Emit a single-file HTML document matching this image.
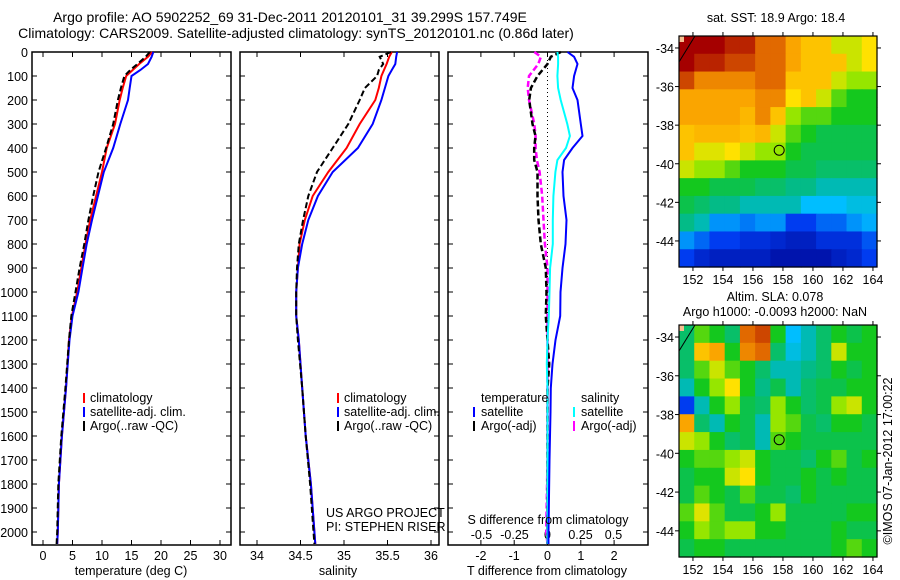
<!DOCTYPE html>
<html><head><meta charset="utf-8"><style>
body{margin:0;background:#fff;}
svg{display:block;font-family:"Liberation Sans",sans-serif;font-size:12.5px;}
</style></head><body>
<svg id="fig" width="900" height="580" viewBox="0 0 900 580"></svg>
<script>
const depths = [0,20,50,75,100,150,200,300,400,500,600,700,800,900,1000,1100,1200,1400,1600,1800,2000,2050];
const tempClim = [18.5,17.8,16.3,15.2,14.1,13.5,13.0,12.2,10.8,10.0,9.0,8.0,7.2,6.5,5.8,4.9,4.4,3.9,3.2,2.7,2.5,2.4];
const tempSat  = [18.7,18.4,17.8,16.5,15.0,14.7,14.4,13.1,11.9,10.3,9.3,8.3,7.4,6.7,6.0,5.0,4.5,3.9,3.2,2.7,2.5,2.4];
const tempArgo = [18.1,17.4,16.0,14.8,13.8,13.2,12.7,11.9,10.7,9.4,8.5,7.7,7.0,6.2,5.5,4.8,4.4,3.8,3.1,2.6,2.4,2.3];
const salClim = [35.55,35.52,35.49,35.46,35.43,35.40,35.36,35.18,35.03,34.82,34.64,34.55,34.49,34.47,34.45,34.45,34.48,34.52,34.56,34.62,34.66,34.67];
const salSat  = [35.61,35.60,35.59,35.55,35.51,35.47,35.43,35.33,35.16,34.87,34.70,34.59,34.52,34.47,34.45,34.45,34.48,34.52,34.56,34.62,34.66,34.67];
const salArgo = [35.54,35.41,35.45,35.40,35.38,35.24,35.18,35.05,34.87,34.69,34.59,34.53,34.48,34.46,34.45,34.45,34.47,34.52,34.56,34.61,34.65,34.66];
const diffDepths = [0,20,50,100,150,200,300,350,400,450,500,600,700,800,900,1000,1100,1200,1300,1400,1500,1700,2000,2050];
const dTsat  = [0.6,0.8,0.9,0.8,0.75,0.9,1.0,1.05,0.75,0.5,0.45,0.48,0.57,0.54,0.45,0.39,0.38,0.24,0.15,0.1,0.09,0.06,0.03,0.03];
const dSsat  = [0.075,0.08,0.08,0.075,0.08,0.1,0.15,0.17,0.14,0.075,0.06,0.045,0.04,0.04,0.02,0.015,0.01,0.0,-0.005,0.0,0.0,0.0,0.0,0.0];
const dTargo = [0.4,0.1,0.0,-0.3,-0.5,-0.55,-0.45,-0.36,-0.4,-0.4,-0.3,-0.3,-0.27,-0.2,-0.05,-0.03,-0.05,0.0,0.05,0.0,0.0,0.0,0.0,0.0];
const dSargo = [-0.1,-0.05,-0.07,-0.14,-0.15,-0.14,-0.1,-0.09,-0.09,-0.08,-0.06,-0.04,-0.03,-0.02,0.0,0.0,0.0,0.0,0.0,0.0,0.0,0.0,-0.01,0.0];
const depthTicks = [0,100,200,300,400,500,600,700,800,900,1000,1100,1200,1300,1400,1500,1600,1700,1800,1900,2000];
const tempTicks = [0,5,10,15,20,25,30];
const salTicks = [34,34.5,35,35.5,36];
const tdTicks = [-2,-1,0,1,2];
const sdTicks = [-0.5,-0.25,0,0.25,0.5];
const lonTicks = [152,154,156,158,160,162,164];
const latTicks = [-34,-36,-38,-40,-42,-44];
const sstGrid = [
[1,1,1,0.95,0.95,0.85,0.85,0.75,0.7,0.7,0.6,0.6,0.65],
[1,0.95,0.95,0.9,0.9,0.85,0.85,0.75,0.7,0.7,0.7,0.6,0.65],
[0.9,0.8,0.8,0.8,0.8,0.85,0.85,0.7,0.7,0.7,0.6,0.55,0.55],
[0.75,0.75,0.75,0.75,0.75,0.8,0.8,0.65,0.7,0.6,0.5,0.45,0.45],
[0.75,0.75,0.75,0.75,0.72,0.8,0.7,0.55,0.5,0.5,0.45,0.45,0.45],
[0.7,0.72,0.72,0.72,0.7,0.72,0.6,0.5,0.45,0.42,0.42,0.42,0.42],
[0.7,0.62,0.62,0.65,0.6,0.55,0.55,0.45,0.42,0.42,0.42,0.42,0.42],
[0.6,0.55,0.55,0.5,0.45,0.45,0.45,0.42,0.42,0.4,0.4,0.4,0.4],
[0.45,0.45,0.42,0.42,0.42,0.4,0.4,0.38,0.38,0.35,0.35,0.35,0.35],
[0.42,0.4,0.38,0.38,0.35,0.35,0.35,0.35,0.3,0.3,0.3,0.32,0.32],
[0.38,0.35,0.25,0.25,0.22,0.25,0.25,0.15,0.15,0.2,0.2,0.25,0.28],
[0.25,0.2,0.15,0.15,0.12,0.12,0.1,0.08,0.08,0.12,0.12,0.12,0.18],
[0.15,0.1,0.08,0.08,0.08,0.08,0.05,0.05,0.05,0.05,0.08,0.1,0.15]];
const slaGrid = [
[0.4,0.5,0.45,0.4,0.85,0.9,0.45,0.3,0.35,0.4,0.45,0.42,0.45],
[0.4,0.7,0.75,0.45,0.8,0.85,0.4,0.32,0.35,0.4,0.6,0.45,0.45],
[0.4,0.5,0.6,0.5,0.45,0.4,0.35,0.35,0.38,0.4,0.45,0.42,0.45],
[0.35,0.45,0.55,0.65,0.45,0.38,0.42,0.35,0.4,0.42,0.42,0.45,0.45],
[0.15,0.35,0.45,0.55,0.42,0.4,0.55,0.45,0.4,0.42,0.55,0.6,0.45],
[0.75,0.4,0.35,0.45,0.42,0.35,0.55,0.5,0.42,0.4,0.45,0.45,0.42],
[0.6,0.55,0.45,0.4,0.42,0.35,0.5,0.45,0.42,0.42,0.42,0.42,0.42],
[0.45,0.5,0.5,0.55,0.6,0.45,0.42,0.42,0.4,0.45,0.5,0.42,0.45],
[0.42,0.45,0.45,0.6,0.65,0.45,0.42,0.42,0.45,0.42,0.45,0.42,0.42],
[0.42,0.5,0.45,0.42,0.5,0.42,0.42,0.4,0.45,0.42,0.42,0.42,0.42],
[0.5,0.62,0.5,0.42,0.42,0.45,0.55,0.42,0.42,0.42,0.42,0.45,0.45],
[0.45,0.55,0.5,0.55,0.55,0.45,0.45,0.42,0.42,0.42,0.45,0.42,0.42],
[0.42,0.45,0.45,0.42,0.42,0.42,0.42,0.42,0.42,0.42,0.45,0.5,0.45]];
const argoLon = 157.749, argoLat = -39.299;

const NS="http://www.w3.org/2000/svg", svg=document.getElementById('fig');
function mk(tag,attrs,parent,text){const e=document.createElementNS(NS,tag);for(const k in attrs)e.setAttribute(k,attrs[k]);if(text!==undefined)e.textContent=text;(parent||svg).appendChild(e);return e;}
function txt(x,y,s,anchor,name,extra){const e=mk('text',Object.assign({x:x,y:y,'text-anchor':anchor||'start'},extra||{}),svg,s);

return e;}
const yD=d=>52+d*0.24;
const xT=t=>43+t*5.9, xS=s=>257+(s-34)*87, xdT=v=>547.5+v*33.3, xdS=v=>547.5+v*132;

function frame(x0,x1,name){const r=mk('rect',{x:x0,y:52,width:x1-x0,height:493,fill:'none',stroke:'#000','stroke-width':1.5});

}
function depthTicksFor(x0,x1,labels){depthTicks.forEach(d=>{const y=yD(d);mk('line',{x1:x0,y1:y,x2:x0+5,y2:y,stroke:'#000'});mk('line',{x1:x1-5,y1:y,x2:x1,y2:y,stroke:'#000'});
if(labels){txt(28,y+5,String(d),'end','depth-tick-label');}});}
function xticks(vals,fx,x0,y,lab,name){vals.forEach(v=>{const x=fx(v);mk('line',{x1:x,y1:545,x2:x,y2:540,stroke:'#000'});mk('line',{x1:x,y1:52,x2:x,y2:57,stroke:'#000'});
if(lab)txt(x,y,String(v),'middle',name);});}
function line(xs,ds,fx,color,dash,name,w){const pts=xs.map((v,i)=>fx(v).toFixed(1)+','+yD(ds[i]).toFixed(1)).join(' ');
const p=mk('polyline',{points:pts,fill:'none',stroke:color,'stroke-width':w||2,'stroke-dasharray':dash||'none'});

}

txt(290,22,'Argo profile: AO 5902252_69 31-Dec-2011 20120101_31 39.299S 157.749E','middle','title-line-1',{'font-size':'14'});
txt(296,38,'Climatology: CARS2009. Satellite-adjusted climatology: synTS_20120101.nc (0.86d later)','middle','title-line-2',{'font-size':'14'});

frame(32,231,'temperature-axes');
depthTicksFor(32,231,true);
xticks(tempTicks,xT,32,560,true,'temperature-tick-label');
line(tempClim,depths,xT,'#f00','', 'temp-climatology-line');
line(tempSat,depths,xT,'#00f','', 'temp-satellite-line');
line(tempArgo,depths,xT,'#000','6,3','temp-argo-line');
txt(131,575,'temperature (deg C)','middle','temperature-x-label');

frame(240,439,'salinity-axes');
depthTicksFor(240,439,false);
xticks(salTicks,xS,240,560,true,'salinity-tick-label');
line(salClim,depths,xS,'#f00','','sal-climatology-line');
line(salSat,depths,xS,'#00f','','sal-satellite-line');
line(salArgo,depths,xS,'#000','6,3','sal-argo-line');
txt(338,575,'salinity','middle','salinity-x-label');
txt(326,517,'US ARGO PROJECT','start','project-label');
txt(326,531,'PI: STEPHEN RISER','start','pi-label');
[84,338].forEach(lx=>{
 [['#f00','climatology'],['#00f','satellite-adj. clim.'],['#000','Argo(..raw -QC)']].forEach((it,i)=>{
  const y=398+i*14;mk('rect',{x:lx-1,y:y-5,width:2,height:10,fill:it[0]});
  txt(lx+6,y+4,it[1],'start','legend-entry');});});

frame(448,648,'difference-axes');
depthTicksFor(448,648,false);
xticks(tdTicks,xdT,448,560,true,'t-diff-tick-label');
sdTicks.forEach(v=>txt(xdS(v),539,String(v),'middle','s-diff-tick-label'));
mk('line',{x1:547.5,y1:52,x2:547.5,y2:545,stroke:'#000','stroke-dasharray':'1,3'});
line(dSargo,diffDepths,xdS,'#f0f','6,3','s-diff-argo-line',2.5);
line(dTargo,diffDepths,xdT,'#000','6,3','t-diff-argo-line',2.5);
line(dSsat,diffDepths,xdS,'#0ff','','s-diff-satellite-line',2);
line(dTsat,diffDepths,xdT,'#00f','','t-diff-satellite-line',2);
txt(481,402,'temperature','start','legend-temperature-header');
txt(581,402,'salinity','start','legend-salinity-header');
[[474,'#00f','satellite',416],[474,'#000','Argo(-adj)',430],[574,'#0ff','satellite',416],[574,'#f0f','Argo(-adj)',430]].forEach(it=>{
 mk('rect',{x:it[0]-1,y:it[3]-9,width:2,height:10,fill:it[1]});txt(it[0]+7,it[3],it[2],'start','legend-entry');});
txt(548,524,'S difference from climatology','middle','s-diff-x-label');
txt(547,575,'T difference from climatology','middle','t-diff-x-label');

const cmapStops=[[0,[0,0,140]],[0.15,[0,60,240]],[0.3,[0,190,255]],[0.37,[0,185,150]],[0.45,[20,200,30]],[0.55,[150,230,0]],[0.65,[255,225,0]],[0.75,[250,165,0]],[0.85,[225,105,0]],[1,[165,0,0]]];
function cmap(v){v=Math.max(0,Math.min(1,v));for(let i=1;i<cmapStops.length;i++){const a=cmapStops[i-1],b=cmapStops[i];if(v<=b[0]){const t=(v-a[0])/(b[0]-a[0]);return 'rgb('+a[1].map((c,k)=>Math.round(c+(b[1][k]-c)*t)).join(',')+')';}}return 'rgb(165,0,0)';}
const LON0=151.07,LON1=164.27;
function map(grid,top,bot,name,labelY){
 const x0=679,x1=877,lat0=-33.38,lat1=-45.35;
 const fx=l=>x0+(l-LON0)/(LON1-LON0)*(x1-x0), fy=l=>top+(l-lat0)/(lat1-lat0)*(bot-top);
 const g=mk('g',{});
 const rows=grid.length,cols=grid[0].length,cw=(x1-x0)/cols,ch=(bot-top)/rows;
 grid.forEach((row,r)=>row.forEach((v,c)=>{mk('rect',{x:(x0+c*cw).toFixed(2),y:(top+r*ch).toFixed(2),width:(cw+0.6).toFixed(2),height:(ch+0.6).toFixed(2),fill:cmap(v)},g);}));
 mk('path',{d:'M'+x0+','+(top+26)+' L'+(x0+16)+','+top,stroke:'#000',fill:'none'},g);
 mk('rect',{x:x0,y:top,width:5,height:6,fill:'#f5c090'},g);
 mk('rect',{x:x0,y:top,width:x1-x0,height:bot-top,fill:'none',stroke:'#000','stroke-width':1.2},g);
 lonTicks.forEach(l=>{const x=fx(l);mk('line',{x1:x,y1:top,x2:x,y2:top-4,stroke:'#000'});mk('line',{x1:x,y1:bot,x2:x,y2:bot+4,stroke:'#000'});txt(x,labelY,String(l),'middle','longitude-tick-label');});
 latTicks.forEach(l=>{const y=fy(l);mk('line',{x1:x0,y1:y,x2:x0-4,y2:y,stroke:'#000'});mk('line',{x1:x1,y1:y,x2:x1+4,y2:y,stroke:'#000'});txt(674,y+5,String(l),'end','latitude-tick-label');});
 const cir=mk('circle',{cx:fx(argoLon),cy:fy(argoLat),r:5,fill:'none',stroke:'#000'});
 
 
}
map(sstGrid,36,267,'sst-map',284);
map(slaGrid,325,557,'sla-map',574);
txt(776,22,'sat. SST: 18.9 Argo: 18.4','middle','sst-map-title');
txt(775,301,'Altim. SLA: 0.078','middle','sla-map-title');
txt(775,316,'Argo h1000: -0.0093 h2000: NaN','middle','sla-map-subtitle');
txt(0,0,'©IMOS 07-Jan-2012 17:00:22','middle','imos-credit',{transform:'translate(892,461) rotate(-90)'});
</script>
</body></html>
